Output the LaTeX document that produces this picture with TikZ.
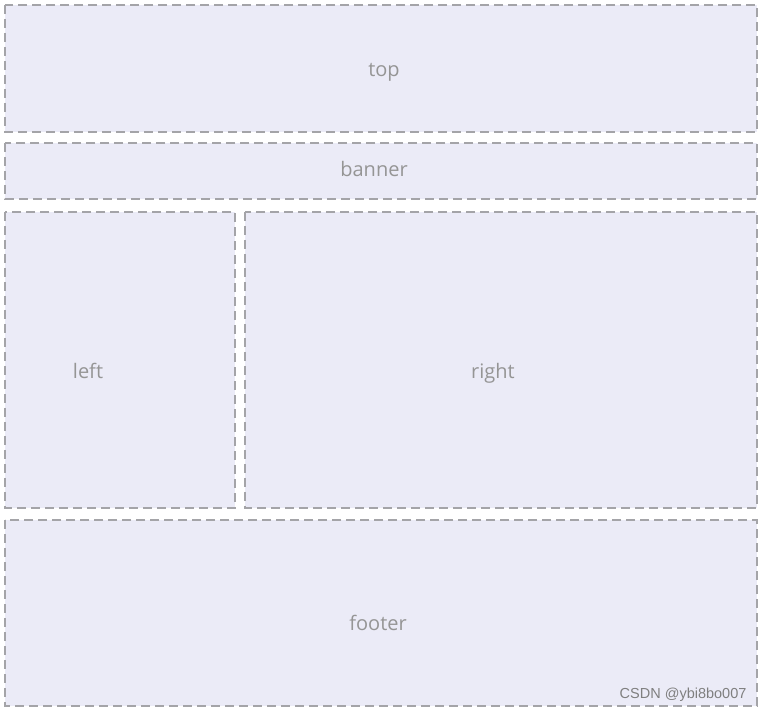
\documentclass[tikz,border=0pt]{standalone}
\usepackage{fontspec}
\setmainfont{Open Sans}
\newfontfamily\wmfont{Liberation Sans}
\definecolor{boxfill}{HTML}{EBEBF7}
\definecolor{boxline}{HTML}{A4A4A8}
\definecolor{txt}{HTML}{959595}
\begin{document}
\begin{tikzpicture}[x=1pt,y=-1pt,
  region/.style={draw=boxline,fill=boxfill,line width=1.6pt,dash pattern=on 9pt off 5pt},
  lbl/.style={text=txt,anchor=base,font=\fontsize{20}{22}\selectfont}]
\useasboundingbox[fill=white] (0,0) rectangle (764,711);
\draw[region] (5,5) rectangle (757,132);
\node[lbl] (top) at (384,77) {top};
\draw[region] (5,143) rectangle (757,199);
\node[lbl] (banner) at (374,177) {banner};
\draw[region] (5,212) rectangle (235,508);
\node[lbl] (left) at (88,379) {left};
\draw[region] (245,212) rectangle (757,508);
\node[lbl] (right) at (493,379) {right};
\draw[region] (5,520) rectangle (757,706);
\node[lbl] (footer) at (378,630) {footer};
\node[text=txt!85!black,font=\wmfont\fontsize{14.5}{16}\selectfont,anchor=base east] (wm) at (750,698) {CSDN @ybi8bo007};
\end{tikzpicture}
\end{document}
